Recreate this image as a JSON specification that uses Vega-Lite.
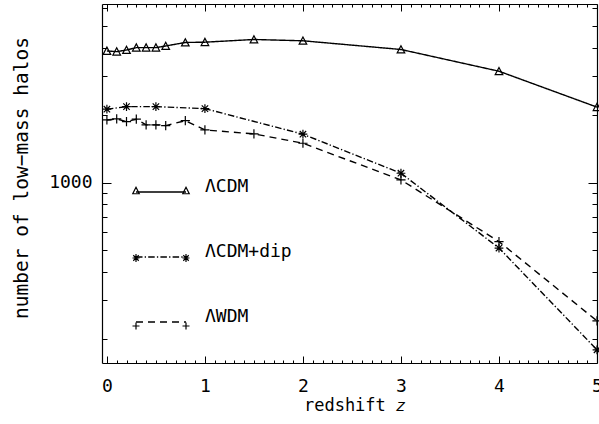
{
  "$schema": "https://vega.github.io/schema/vega-lite/v6.json",
  "width": 495,
  "height": 359,
  "autosize": {"type": "none"},
  "padding": {"left": 102, "top": 4, "right": 2, "bottom": 61},
  "config": {
    "view": {"stroke": null},
    "axis": {
      "domainColor": "black",
      "domainWidth": 1.2,
      "tickColor": "black",
      "tickWidth": 1,
      "grid": false,
      "labelFont": "DejaVu Sans Mono",
      "labelFontSize": 18,
      "labelColor": "black",
      "labelFlush": false,
      "labelOverlap": false,
      "titleFont": "DejaVu Sans Mono",
      "titleFontSize": 17,
      "titleFontWeight": "normal",
      "titleColor": "black"
    }
  },
  "data": {
    "values": [
      {"series": "ΛCDM", "z": 0, "n": 3873},
      {"series": "ΛCDM", "z": 0.1, "n": 3846},
      {"series": "ΛCDM", "z": 0.2, "n": 3912},
      {"series": "ΛCDM", "z": 0.3, "n": 4006},
      {"series": "ΛCDM", "z": 0.4, "n": 4006},
      {"series": "ΛCDM", "z": 0.5, "n": 4006},
      {"series": "ΛCDM", "z": 0.6, "n": 4077},
      {"series": "ΛCDM", "z": 0.8, "n": 4226},
      {"series": "ΛCDM", "z": 1, "n": 4239},
      {"series": "ΛCDM", "z": 1.5, "n": 4358},
      {"series": "ΛCDM", "z": 2, "n": 4300},
      {"series": "ΛCDM", "z": 3, "n": 3932},
      {"series": "ΛCDM", "z": 4, "n": 3144},
      {"series": "ΛCDM", "z": 5, "n": 2173},
      {"series": "ΛCDM+dip", "z": 0, "n": 2127},
      {"series": "ΛCDM+dip", "z": 0.2, "n": 2184},
      {"series": "ΛCDM+dip", "z": 0.5, "n": 2184},
      {"series": "ΛCDM+dip", "z": 1, "n": 2140},
      {"series": "ΛCDM+dip", "z": 2, "n": 1645},
      {"series": "ΛCDM+dip", "z": 3, "n": 1101},
      {"series": "ΛCDM+dip", "z": 4, "n": 510},
      {"series": "ΛCDM+dip", "z": 5, "n": 179},
      {"series": "ΛWDM", "z": 0, "n": 1905},
      {"series": "ΛWDM", "z": 0.1, "n": 1925},
      {"series": "ΛWDM", "z": 0.2, "n": 1873},
      {"series": "ΛWDM", "z": 0.3, "n": 1919},
      {"series": "ΛWDM", "z": 0.4, "n": 1810},
      {"series": "ΛWDM", "z": 0.5, "n": 1810},
      {"series": "ΛWDM", "z": 0.6, "n": 1797},
      {"series": "ΛWDM", "z": 0.8, "n": 1891},
      {"series": "ΛWDM", "z": 1, "n": 1719},
      {"series": "ΛWDM", "z": 1.5, "n": 1650},
      {"series": "ΛWDM", "z": 2, "n": 1499},
      {"series": "ΛWDM", "z": 3, "n": 1028},
      {"series": "ΛWDM", "z": 4, "n": 545},
      {"series": "ΛWDM", "z": 5, "n": 241}
    ]
  },
  "resolve": {"axis": {"x": "independent", "y": "independent"}, "scale": {"shape": "independent"}},
  "layer": [
    {
      "mark": {"type": "line", "color": "black", "strokeWidth": 1.4},
      "encoding": {
        "x": {
          "field": "z", "type": "quantitative",
          "scale": {"domain": [-0.05, 5], "nice": false, "zero": false},
          "axis": {"orient": "bottom", "values": [0, 1, 2, 3, 4, 5], "format": "d", "tickSize": -7, "labelPadding": 21,
                   "title": "redshift 𝑧", "titleX": 252, "titleY": 47, "titleBaseline": "alphabetic"}
        },
        "y": {
          "field": "n", "type": "quantitative",
          "scale": {"type": "log", "domain": [156.3, 6278], "nice": false},
          "axis": {"orient": "left", "values": [1000], "format": "d", "tickSize": -9, "labelPadding": 19,
                   "title": "number of low−mass halos", "titleFontSize": 19.5, "titleX": -75, "titleY": 173.5, "titleBaseline": "alphabetic"}
        },
        "strokeDash": {
          "field": "series", "type": "nominal",
          "scale": {"range": [[1, 0], [6.5, 2.2, 1.3, 2.2], [7, 5]]},
          "legend": {
            "title": null, "orient": "none", "legendX": 33, "legendY": 162, "padding": 0,
            "symbolType": "stroke", "symbolSize": 2500, "symbolStrokeWidth": 1.4, "symbolStrokeColor": "black",
            "labelFont": "DejaVu Sans Mono", "labelFontSize": 18, "labelColor": "black",
            "labelOffset": 18, "labelBaseline": "alphabetic", "rowPadding": 35
          }
        }
      }
    },
    {
      "mark": {"type": "point", "filled": false, "color": "black", "strokeWidth": 1.2, "size": 64, "opacity": 1},
      "encoding": {
        "x": {
          "field": "z", "type": "quantitative",
          "scale": {"domain": [-0.05, 5], "nice": false, "zero": false},
          "axis": {"orient": "bottom", "values": [0.1,0.2,0.3,0.4,0.5,0.6,0.7,0.8,0.9,1.1,1.2,1.3,1.4,1.5,1.6,1.7,1.8,1.9,2.1,2.2,2.3,2.4,2.5,2.6,2.7,2.8,2.9,3.1,3.2,3.3,3.4,3.5,3.6,3.7,3.8,3.9,4.1,4.2,4.3,4.4,4.5,4.6,4.7,4.8,4.9],
                   "tickSize": -3, "labels": false, "domain": false, "title": null}
        },
        "y": {
          "field": "n", "type": "quantitative",
          "scale": {"type": "log", "domain": [156.3, 6278], "nice": false},
          "axis": {"orient": "left", "values": [200, 300, 400, 500, 600, 700, 800, 900, 2000, 3000, 4000, 5000, 6000],
                   "tickSize": -5, "labels": false, "domain": false, "title": null}
        },
        "shape": {
          "field": "series", "type": "nominal",
          "scale": {
            "domain": ["ΛCDM", "ΛCDM+dip", "ΛWDM"],
            "range": [
              "M0,-0.95L0.95,0.85L-0.95,0.85Z",
              "M-1.1,0L1.1,0M0,-1.1L0,1.1M-0.8,-0.8L0.8,0.8M-0.8,0.8L0.8,-0.8",
              "M-1.15,0L1.15,0M0,-1.15L0,1.15"
            ]
          },
          "legend": null
        }
      }
    },
    {
      "mark": {"type": "point", "opacity": 0},
      "encoding": {
        "x": {
          "field": "z", "type": "quantitative",
          "scale": {"domain": [-0.05, 5], "nice": false, "zero": false},
          "axis": {"orient": "top", "values": [0, 1, 2, 3, 4, 5], "tickSize": -7, "labels": false, "title": null}
        },
        "y": {
          "field": "n", "type": "quantitative",
          "scale": {"type": "log", "domain": [156.3, 6278], "nice": false},
          "axis": {"orient": "right", "values": [1000], "tickSize": -9, "labels": false, "title": null}
        }
      }
    },
    {
      "mark": {"type": "point", "opacity": 0},
      "encoding": {
        "x": {
          "field": "z", "type": "quantitative",
          "scale": {"domain": [-0.05, 5], "nice": false, "zero": false},
          "axis": {"orient": "top", "values": [0.1,0.2,0.3,0.4,0.5,0.6,0.7,0.8,0.9,1.1,1.2,1.3,1.4,1.5,1.6,1.7,1.8,1.9,2.1,2.2,2.3,2.4,2.5,2.6,2.7,2.8,2.9,3.1,3.2,3.3,3.4,3.5,3.6,3.7,3.8,3.9,4.1,4.2,4.3,4.4,4.5,4.6,4.7,4.8,4.9],
                   "tickSize": -3, "labels": false, "domain": false, "title": null}
        },
        "y": {
          "field": "n", "type": "quantitative",
          "scale": {"type": "log", "domain": [156.3, 6278], "nice": false},
          "axis": {"orient": "right", "values": [200, 300, 400, 500, 600, 700, 800, 900, 2000, 3000, 4000, 5000, 6000],
                   "tickSize": -5, "labels": false, "domain": false, "title": null}
        }
      }
    },
    {
      "mark": {"type": "point", "filled": false, "color": "black", "strokeWidth": 1.2, "opacity": 0},
      "encoding": {
        "x": {"field": "z", "type": "quantitative", "scale": {"domain": [-0.05, 5], "nice": false, "zero": false}, "axis": null},
        "y": {"field": "n", "type": "quantitative", "scale": {"type": "log", "domain": [156.3, 6278], "nice": false}, "axis": null},
        "shape": {
          "field": "series", "type": "nominal",
          "scale": {
            "domain": ["ΛCDM", "ΛCDM+dip", "ΛWDM"],
            "range": [
              "M-1,-0.19L-0.87,0.07L-1.13,0.07ZM1,-0.19L1.13,0.07L0.87,0.07Z",
              "M-1.14,0L-0.86,0M-1,-0.16L-1,0.16M-1.11,-0.11L-0.89,0.11M-1.11,0.11L-0.89,-0.11M0.86,0L1.14,0M1,-0.16L1,0.16M0.89,-0.11L1.11,0.11M0.89,0.11L1.11,-0.11",
              "M-1.14,0L-0.86,0M-1,-0.14L-1,0.14M0.86,0L1.14,0M1,-0.14L1,0.14"
            ]
          },
          "legend": {
            "title": null, "orient": "none", "legendX": 33, "legendY": 162, "padding": 0,
            "symbolSize": 2500, "symbolStrokeWidth": 1.2, "symbolStrokeColor": "black", "symbolOpacity": 1,
            "symbolFillColor": "transparent",
            "labelFont": "DejaVu Sans Mono", "labelFontSize": 18, "labelColor": "black", "labelOpacity": 0,
            "labelExpr": "''",
            "labelOffset": 18, "labelBaseline": "alphabetic", "rowPadding": 35
          }
        }
      }
    }
  ]
}
